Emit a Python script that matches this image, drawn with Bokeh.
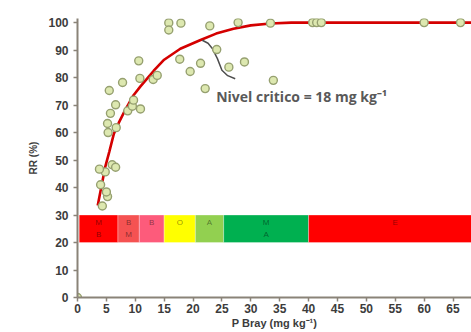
from bokeh.plotting import figure
from bokeh.models import Range1d, FixedTicker, ColumnDataSource
from bokeh.embed import file_html
from bokeh.resources import INLINE
from bokeh.core.properties import value

# Observed data (P Bray, RR %)
obs_x = [0, 4.3, 5.2, 5.0, 4.0, 4.8, 3.8, 6.0, 6.6, 5.3, 5.2, 6.7, 5.7, 6.6, 5.5,
         7.8, 8.7, 9.5, 9.7, 10.9, 10.8, 10.6, 13.1, 13.8, 15.8, 15.8, 17.9, 17.7,
         19.5, 21.3, 22.1, 22.9, 24.1, 26.2, 27.8, 28.9, 33.4, 33.9, 40.7, 41.4,
         42.2, 60.0, 66.3]
obs_y = [0, 33.3, 36.7, 38.4, 41.0, 45.7, 46.7, 48.3, 47.4, 60.0, 63.3, 61.8, 67.0,
         70.1, 75.3, 78.2, 67.9, 69.6, 71.8, 68.6, 79.7, 86.1, 79.3, 80.8, 99.9,
         97.3, 99.8, 86.7, 82.2, 85.2, 76.0, 98.8, 90.2, 83.8, 100, 85.7, 99.8,
         79.0, 100, 100, 100, 100, 100]

# Fitted response curve
curve_x = [3.5, 4.2, 4.8, 5.5, 6.3, 7.2, 8.2, 9.7, 10.9, 12.6, 13.2, 15.0, 17.8,
           21.3, 24.0, 27.0, 30.0, 33.4, 37.0, 40.0, 50.0, 60.0, 70.0]
curve_y = [33.5, 41.0, 47.5, 53.0, 59.6, 63.8, 68.0, 73.6, 76.8, 81.0, 82.5, 86.5,
           90.5, 93.7, 96.0, 97.8, 99.0, 99.7, 100, 100, 100, 100, 100]

# Interpretation classes band
band_labels = ["M\nB", "B\nM", "B", "O", "A", "M\nA", "E"]
band_left = [0.3, 7.0, 10.7, 15.0, 20.4, 25.3, 40.0]
band_right = [7.0, 10.7, 15.0, 20.4, 25.3, 40.0, 70.0]
band_colors = ["#ff0000", "#f55252", "#fd5b7b", "#ffff00", "#92d050", "#00b050", "#ff0000"]
band_bottom = 20
band_top = 30

# Annotation
note_text = "Nivel critico = 18 mg kg\u207b\u00b9"
note_x = 24.0
note_y = 73.3
arrow_x = [21.6, 22.6, 23.3, 24.2, 25.0, 26.0, 27.3]
arrow_y = [93.6, 92.5, 90.7, 87.0, 82.7, 80.7, 79.6]

x_ticks = list(range(0, 70, 5))
y_ticks = list(range(0, 101, 10))

p = figure(width=471, height=332, x_range=Range1d(0, 68.2), y_range=Range1d(0, 101.5),
           output_backend="svg", toolbar_location=None,
           min_border_left=77, min_border_right=0, min_border_top=18, min_border_bottom=35)
p.outline_line_color = None
p.xgrid.visible = False
p.ygrid.visible = False
p.background_fill_color = "white"

bsrc = ColumnDataSource(dict(left=band_left, right=band_right, color=band_colors,
                             label=band_labels,
                             cx=[(a + b) / 2 for a, b in zip(band_left, band_right)],
                             ty=[29.0] * len(band_labels)))
p.quad(left="left", right="right", bottom=band_bottom, top=band_top, fill_color="color",
       line_color="white", line_alpha=0.5, line_width=0.6, source=bsrc)
p.text(x="cx", y="ty", text="label", source=bsrc, text_align="center", text_baseline="top",
       text_font=value("Liberation Sans"), text_font_size="8px", text_color="#000000",
       text_alpha=0.45, text_line_height=1.35)

p.line(curve_x, curve_y, line_color="#d40000", line_width=2.6)

p.line(arrow_x, arrow_y, line_color="#4d4d4d", line_width=1.5)

p.scatter(obs_x, obs_y, size=8, fill_color="#dde8b0", line_color="#96a070", line_width=1.4)

p.text(x=[note_x], y=[note_y], text=[note_text], text_align="left", text_baseline="middle",
       text_font=value("Open Sans"), text_font_size="14px", text_font_style="bold",
       text_color="#595959")

for ax in (p.xaxis[0], p.yaxis[0]):
    ax.axis_line_color = "#8a8378"
    ax.axis_line_width = 2
    ax.major_tick_line_color = "#8a8378"
    ax.major_tick_line_width = 1.5
    ax.major_tick_in = 0
    ax.major_tick_out = 4
    ax.minor_tick_line_color = None
    ax.major_label_text_font = "Liberation Sans"
    ax.major_label_text_font_size = "12px"
    ax.major_label_text_font_style = "bold"
    ax.major_label_text_color = "#3c3c3c"
    ax.axis_label_text_font = "Liberation Sans"
    ax.axis_label_text_font_style = "bold"
    ax.axis_label_text_color = "#3c3c3c"

p.xaxis.ticker = FixedTicker(ticks=x_ticks)
p.yaxis.ticker = FixedTicker(ticks=y_ticks)
p.xaxis.axis_label = "P Bray (mg kg\u207b\u00b9)"
p.yaxis.axis_label = "RR (%)"
p.xaxis.axis_label_text_font_size = "11px"
p.yaxis.axis_label_text_font_size = "10px"
p.xaxis.major_label_standoff = 2
p.yaxis.major_label_standoff = 5
p.xaxis.axis_label_standoff = 1
p.yaxis.axis_label_standoff = 6

open("out.html", "w").write(file_html(p, INLINE))
